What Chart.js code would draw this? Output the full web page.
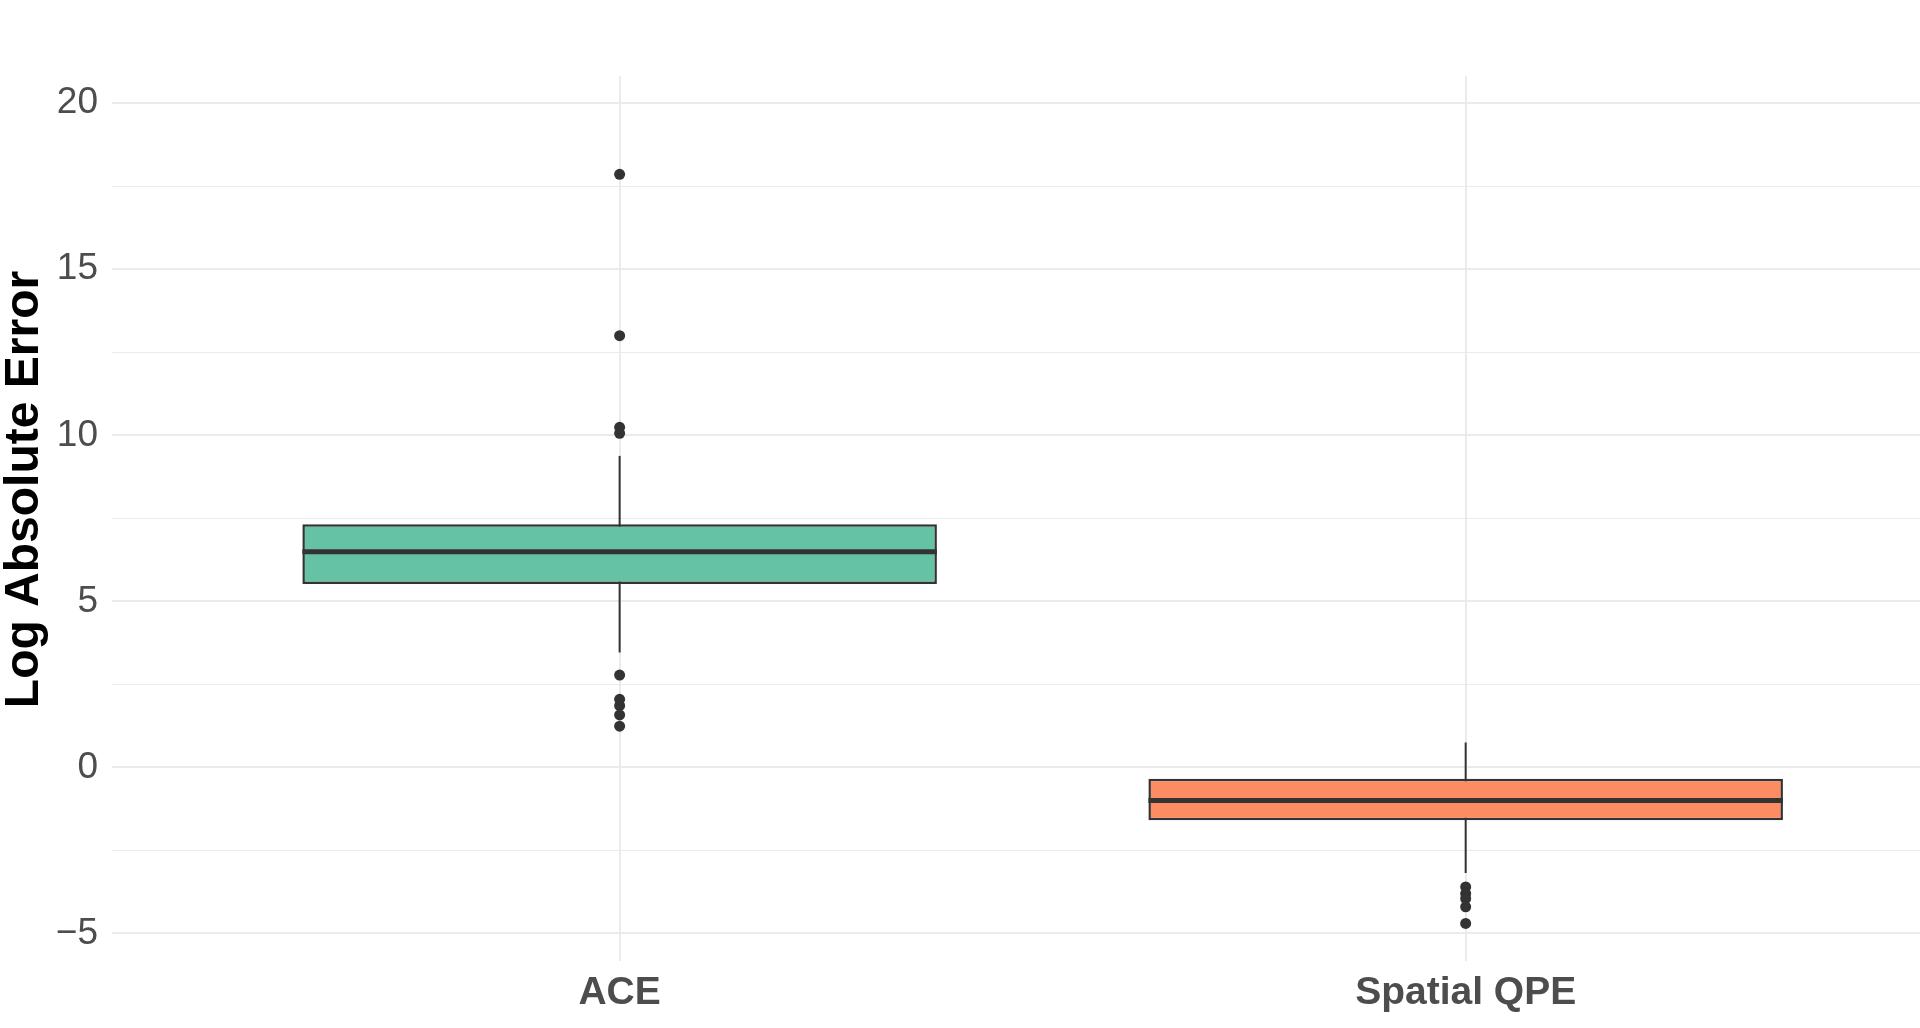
<!DOCTYPE html>
<html>
<head>
<meta charset="utf-8">
<title>Log Absolute Error</title>
<script src="https://cdn.jsdelivr.net/npm/chart.js@4"></script>
<style>
    html, body { margin: 0; padding: 0; background: #ffffff; }
    #wrap { width: 1920px; height: 1028px; }
</style>
</head>
<body>
<div id="wrap"><canvas id="boxChart"></canvas></div>
<script>
// Box plot summaries
const categories = ['ACE', 'Spatial QPE'];
const boxColors = ['#66c2a5', '#fc8d62'];
const q1 = [5.52, -1.59];
const medians = [6.49, -1.0];
const q3 = [7.32, -0.34];
const whiskerLow = [3.46, -3.18];
const whiskerHigh = [9.38, 0.75];
const outliers = [
    [17.86, 13.0, 10.24, 10.06, 2.78, 2.05, 1.86, 1.58, 1.24],
    [-3.6, -3.8, -3.95, -4.2, -4.7]
];
const yTicks = [-5, -2.5, 0, 2.5, 5, 7.5, 10, 12.5, 15, 17.5, 20];
const yTitle = 'Log Absolute Error';

const boxWidth = 0.75;
const gridColor = '#ebebeb';
const ink = '#333333';
const fontFamily = '"Liberation Sans", Arial, sans-serif';

const datasets = [];

// whiskers (drawn first, box covers the middle part)
categories.forEach((c, i) => {
    datasets.push({
        type: 'line',
        data: [{ x: i + 1, y: whiskerLow[i] }, { x: i + 1, y: whiskerHigh[i] }],
        borderColor: ink,
        borderWidth: 2,
        pointRadius: 0,
        order: 3
    });
});

// boxes as floating bars
datasets.push({
    type: 'bar',
    data: categories.map((c, i) => ({ x: i + 1, y: [q1[i], q3[i]] })),
    backgroundColor: boxColors,
    borderColor: ink,
    borderWidth: 2.5,
    borderSkipped: false,
    categoryPercentage: 1,
    barPercentage: boxWidth,
    order: 2
});

// medians
categories.forEach((c, i) => {
    datasets.push({
        type: 'line',
        data: [{ x: i + 1 - boxWidth / 2, y: medians[i] }, { x: i + 1 + boxWidth / 2, y: medians[i] }],
        borderColor: ink,
        borderWidth: 5,
        pointRadius: 0,
        order: 1
    });
});

// outlier points
datasets.push({
    type: 'scatter',
    data: outliers.flatMap((vals, i) => vals.map(v => ({ x: i + 1, y: v }))),
    backgroundColor: ink,
    borderWidth: 0,
    pointRadius: 5.5,
    order: 0
});

// y title drawn by hand, sits a bit above the panel centre like in the original
const yTitlePlugin = {
    id: 'yTitle',
    afterDraw(chart) {
        const c = chart.ctx;
        const area = chart.chartArea;
        c.save();
        c.translate(25, (area.top + area.bottom) / 2 - 29);
        c.rotate(-Math.PI / 2);
        c.font = 'bold 48px ' + fontFamily;
        c.fillStyle = '#000000';
        c.textAlign = 'center';
        c.textBaseline = 'middle';
        c.fillText(yTitle, 0, 0);
        c.restore();
    }
};

const ctx = document.getElementById('boxChart').getContext('2d');
new Chart(ctx, {
    type: 'bar',
    data: { datasets: datasets },
    plugins: [yTitlePlugin],
    options: {
        responsive: true,
        maintainAspectRatio: false,
        animation: false,
        layout: { autoPadding: false, padding: { top: 76, right: 0, left: 0, bottom: 0 } },
        plugins: {
            legend: { display: false },
            tooltip: { enabled: false }
        },
        scales: {
            x: {
                type: 'linear',
                offset: false,
                min: 0.4,
                max: 2.537,
                afterBuildTicks: (scale) => {
                    scale.ticks = categories.map((c, i) => ({ value: i + 1 }));
                },
                afterFit: (scale) => { scale.height = 67; },
                grid: { color: gridColor, lineWidth: 2, drawTicks: false, offset: false },
                border: { display: false },
                ticks: {
                    padding: 9,
                    color: '#4d4d4d',
                    font: { family: fontFamily, size: 39, weight: 'bold' },
                    callback: (value) => categories[value - 1] || ''
                }
            },
            y: {
                type: 'linear',
                min: -5.83,
                max: 20.82,
                afterBuildTicks: (scale) => {
                    scale.ticks = yTicks.map(v => ({ value: v }));
                },
                afterFit: (scale) => { scale.width = 112; },
                grid: {
                    color: gridColor,
                    lineWidth: (c) => (c.tick && c.tick.value % 5 === 0 ? 2 : 1),
                    drawTicks: false
                },
                border: { display: false },
                ticks: {
                    padding: 14,
                    color: '#4d4d4d',
                    font: { family: fontFamily, size: 37 },
                    callback: (value) => {
                        if (value % 5 !== 0) return '';
                        return value < 0 ? '\u2212' + Math.abs(value) : String(value);
                    }
                }
            }
        }
    }
});
</script>
</body>
</html>
